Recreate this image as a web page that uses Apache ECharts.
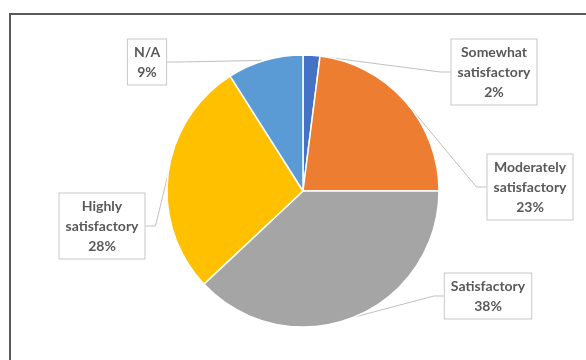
<!DOCTYPE html>
<html>
<head>
<meta charset="utf-8">
<script src="https://cdn.jsdelivr.net/npm/echarts@6/dist/echarts.min.js"></script>
<style>
  html, body { margin: 0; padding: 0; background: #fff; }
  #chart { width: 586px; height: 360px; }
</style>
</head>
<body>
<div id="chart"></div>
<script>
// Survey responses, clockwise from 12 o'clock
const categories = ['Somewhat\nsatisfactory', 'Moderately\nsatisfactory', 'Satisfactory', 'Highly\nsatisfactory', 'N/A'];
const shares = [2, 23, 38, 28, 9];
const sliceColors = ['#4472C4', '#ED7D31', '#A5A5A5', '#FFC000', '#5B9BD5'];

// Callout box centres, one per category
const calloutX = [494, 530, 488, 102, 147];
const calloutY = [72, 187, 296, 226, 62];

const chart = echarts.init(document.getElementById('chart'), null, { renderer: 'canvas' });

chart.setOption({
  backgroundColor: '#ffffff',
  animation: false,
  graphic: [{
    type: 'rect',
    silent: true,
    shape: { x: 10, y: 14, width: 700, height: 500 },
    style: { fill: 'none', stroke: '#595959', lineWidth: 2 }
  }],
  series: [{
    type: 'pie',
    center: [303, 191],
    radius: 136,
    startAngle: 90,
    clockwise: true,
    data: categories.map((name, i) => ({
      name: name,
      value: shares[i],
      itemStyle: { color: sliceColors[i] }
    })),
    itemStyle: { borderColor: '#ffffff', borderWidth: 1.5 },
    label: {
      show: true,
      formatter: p => p.name + '\n' + p.value + '%',
      fontFamily: 'Lato',
      fontWeight: 'bold',
      fontSize: 14,
      lineHeight: 20,
      color: '#595959',
      align: 'center',
      backgroundColor: '#ffffff',
      borderColor: '#c8c8c8',
      borderWidth: 1,
      padding: [3, 6, 2, 6]
    },
    labelLine: {
      show: true,
      length: 10,
      length2: 10,
      lineStyle: { color: '#c0c0c0', width: 1 }
    },
    labelLayout: params => ({
      x: calloutX[params.dataIndex],
      y: calloutY[params.dataIndex],
      align: 'center',
      verticalAlign: 'middle'
    })
  }]
});
</script>
</body>
</html>
